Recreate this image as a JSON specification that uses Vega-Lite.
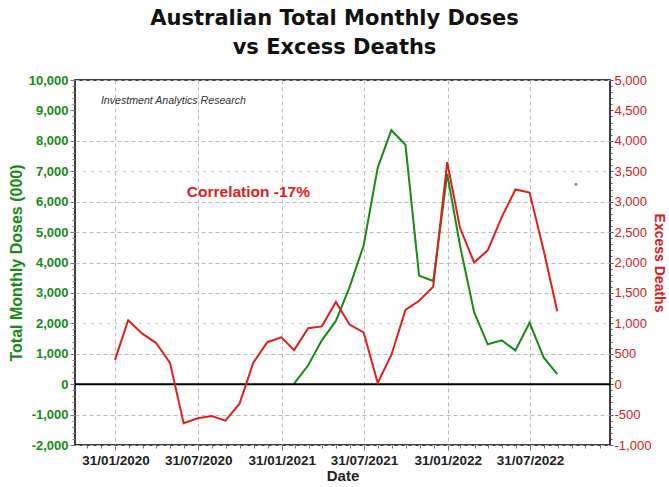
{
  "$schema": "https://vega.github.io/schema/vega-lite/v6.json",
  "width": 535,
  "height": 365,
  "autosize": "none",
  "padding": {"left": 75, "top": 80, "right": 59, "bottom": 42},
  "background": "white",
  "title": {
    "text": ["Australian Total Monthly Doses", "vs Excess Deaths"],
    "font": "DejaVu Sans",
    "fontSize": 21,
    "fontWeight": "bold",
    "color": "#111111",
    "anchor": "middle",
    "dx": -8,
    "offset": 16,
    "lineHeight": 29
  },
  "config": {
    "view": {"stroke": "#000000", "strokeWidth": 1.5},
    "axis": {"labelFont": "Liberation Sans", "titleFont": "Liberation Sans", "labelOverlap": false},
    "axisLeft": {
      "labelFontSize": 13, "labelFontWeight": "bold", "labelColor": "#1a8a1a",
      "titleFontSize": 16, "titleFontWeight": "bold", "titleColor": "#1a8a1a",
      "titlePadding": 4, "labelPadding": 2,
      "domain": false, "tickColor": "#777777",
      "grid": true, "gridColor": "#bbbbbb"
    },
    "axisRight": {
      "labelFontSize": 13, "labelColor": "#d42020",
      "titleFontSize": 14, "titleFontWeight": "bold", "titleColor": "#d42020",
      "titlePadding": 1, "labelPadding": 1,
      "domain": false, "tickColor": "#555555",
      "grid": false
    },
    "axisBottom": {
      "labelFontSize": 13.5, "labelFontWeight": "bold", "labelColor": "#222222",
      "titleFontSize": 15, "titleFontWeight": "bold", "titleColor": "#222222",
      "titlePadding": 2, "labelPadding": 3,
      "domain": false, "tickColor": "#777777",
      "grid": true, "gridColor": "#bbbbbb", "gridDash": [4, 3]
    }
  },
  "datasets": {
    "main": [
      {"date": "2020-01-31", "doses": null, "deaths": 400},
      {"date": "2020-02-29", "doses": null, "deaths": 1050},
      {"date": "2020-03-31", "doses": null, "deaths": 830},
      {"date": "2020-04-30", "doses": null, "deaths": 680},
      {"date": "2020-05-31", "doses": null, "deaths": 350},
      {"date": "2020-06-30", "doses": null, "deaths": -640},
      {"date": "2020-07-31", "doses": null, "deaths": -560},
      {"date": "2020-08-31", "doses": null, "deaths": -525},
      {"date": "2020-09-30", "doses": null, "deaths": -600},
      {"date": "2020-10-31", "doses": null, "deaths": -320},
      {"date": "2020-11-30", "doses": null, "deaths": 350},
      {"date": "2020-12-31", "doses": null, "deaths": 690},
      {"date": "2021-01-31", "doses": null, "deaths": 770},
      {"date": "2021-02-28", "doses": 20, "deaths": 560},
      {"date": "2021-03-31", "doses": 620, "deaths": 920},
      {"date": "2021-04-30", "doses": 1440, "deaths": 950},
      {"date": "2021-05-31", "doses": 2080, "deaths": 1350},
      {"date": "2021-06-30", "doses": 3190, "deaths": 980},
      {"date": "2021-07-31", "doses": 4560, "deaths": 850},
      {"date": "2021-08-31", "doses": 7120, "deaths": 20},
      {"date": "2021-09-30", "doses": 8350, "deaths": 480},
      {"date": "2021-10-31", "doses": 7870, "deaths": 1220},
      {"date": "2021-11-30", "doses": 3570, "deaths": 1370},
      {"date": "2021-12-31", "doses": 3390, "deaths": 1600},
      {"date": "2022-01-31", "doses": 6910, "deaths": 3650},
      {"date": "2022-02-28", "doses": 4560, "deaths": 2570},
      {"date": "2022-03-31", "doses": 2370, "deaths": 2000},
      {"date": "2022-04-30", "doses": 1310, "deaths": 2200},
      {"date": "2022-05-31", "doses": 1440, "deaths": 2750},
      {"date": "2022-06-30", "doses": 1110, "deaths": 3200},
      {"date": "2022-07-31", "doses": 2020, "deaths": 3150},
      {"date": "2022-08-31", "doses": 880, "deaths": 2200},
      {"date": "2022-09-30", "doses": 330, "deaths": 1200}
    ],
    "credit": [{"date": "2019-12-31", "doses": 9310, "label": "Investment Analytics Research"}],
    "corr": [{"date": "2020-07-07", "doses": 6330, "label": "Correlation -17%"}],
    "dot": [{"date": "2022-11-10", "doses": 6570}]
  },
  "layer": [
    {
      "encoding": {
        "x": {
          "field": "date", "type": "temporal", "title": "Date",
          "scale": {"type": "utc", "domain": [{"year": 2019, "month": 11, "date": 4, "utc": true}, {"year": 2023, "month": 1, "date": 24, "utc": true}]},
          "axis": {
            "title": "Date",
            "tickCount": {"interval": "month", "step": 1},
            "labelExpr": "(utcmonth(datum.value) == 1 || utcmonth(datum.value) == 7) ? utcFormat(datum.value - 86400000, '%d/%m/%Y') : ''",
            "tickSize": {"condition": {"test": "utcmonth(datum.value) != 1 && utcmonth(datum.value) != 7", "value": 3}, "value": 5},
            "gridOpacity": {"condition": {"test": "utcmonth(datum.value) != 1 && utcmonth(datum.value) != 7", "value": 0}, "value": 1}
          }
        },
        "y": {
          "field": "doses", "type": "quantitative", "title": "Total Monthly Doses (000)",
          "scale": {"domain": [-2000, 10000], "nice": false},
          "axis": {
            "title": "Total Monthly Doses (000)",
            "values": [-2000,-1800,-1600,-1400,-1200,-1000,-800,-600,-400,-200,0,200,400,600,800,1000,1200,1400,1600,1800,2000,2200,2400,2600,2800,3000,3200,3400,3600,3800,4000,4200,4400,4600,4800,5000,5200,5400,5600,5800,6000,6200,6400,6600,6800,7000,7200,7400,7600,7800,8000,8200,8400,8600,8800,9000,9200,9400,9600,9800,10000],
            "labelExpr": "datum.value % 1000 == 0 ? replace(format(datum.value, ',d'), '\u2212', '-') : ''",
            "tickSize": {"condition": {"test": "datum.value % 1000 != 0", "value": 3}, "value": 5},
            "gridDash": {"condition": {"test": "datum.value == 2000 || datum.value == 7000", "value": [2, 6]}, "value": [4, 3]},
            "gridOpacity": {"condition": {"test": "datum.value % 1000 != 0 || datum.value == 9000 || datum.value == 0", "value": 0}, "value": 1}
          }
        }
      },
      "layer": [
        {
          "data": {"name": "main"},
          "mark": {"type": "line", "color": "#1a8a1a", "strokeWidth": 2}
        },
        {
          "data": {"values": [{"doses": 0}]},
          "mark": {"type": "rule", "color": "#000000", "strokeWidth": 2},
          "encoding": {"x": null}
        },
        {
          "data": {"name": "credit"},
          "mark": {"type": "text", "font": "Liberation Sans", "fontStyle": "italic", "fontSize": 10.6, "color": "#333333", "align": "left", "baseline": "middle"},
          "encoding": {"text": {"field": "label"}}
        },
        {
          "data": {"name": "corr"},
          "mark": {"type": "text", "font": "Liberation Sans", "fontWeight": "bold", "fontSize": 15.5, "color": "#e0201c", "align": "left", "baseline": "middle"},
          "encoding": {"text": {"field": "label"}}
        },
        {
          "data": {"name": "dot"},
          "mark": {"type": "point", "filled": true, "color": "#3b3bdd", "size": 8}
        }
      ]
    },
    {
      "data": {"name": "main"},
      "mark": {"type": "line", "color": "#e0201c", "strokeWidth": 2},
      "encoding": {
        "x": {
          "field": "date", "type": "temporal", "title": "Date",
          "scale": {"type": "utc", "domain": [{"year": 2019, "month": 11, "date": 4, "utc": true}, {"year": 2023, "month": 1, "date": 24, "utc": true}]}
        },
        "y": {
          "field": "deaths", "type": "quantitative",
          "scale": {"domain": [-1000, 5000], "nice": false},
          "axis": {
            "orient": "right",
            "title": "Excess Deaths",
            "values": [-1000,-900,-800,-700,-600,-500,-400,-300,-200,-100,0,100,200,300,400,500,600,700,800,900,1000,1100,1200,1300,1400,1500,1600,1700,1800,1900,2000,2100,2200,2300,2400,2500,2600,2700,2800,2900,3000,3100,3200,3300,3400,3500,3600,3700,3800,3900,4000,4100,4200,4300,4400,4500,4600,4700,4800,4900,5000],
            "labelExpr": "datum.value % 500 == 0 ? replace(format(datum.value, ',d'), '\u2212', '-') : ''",
            "tickSize": {"condition": {"test": "datum.value % 500 != 0", "value": 2}, "value": 3}
          }
        }
      }
    }
  ],
  "resolve": {"scale": {"y": "independent"}, "axis": {"y": "independent"}}
}
